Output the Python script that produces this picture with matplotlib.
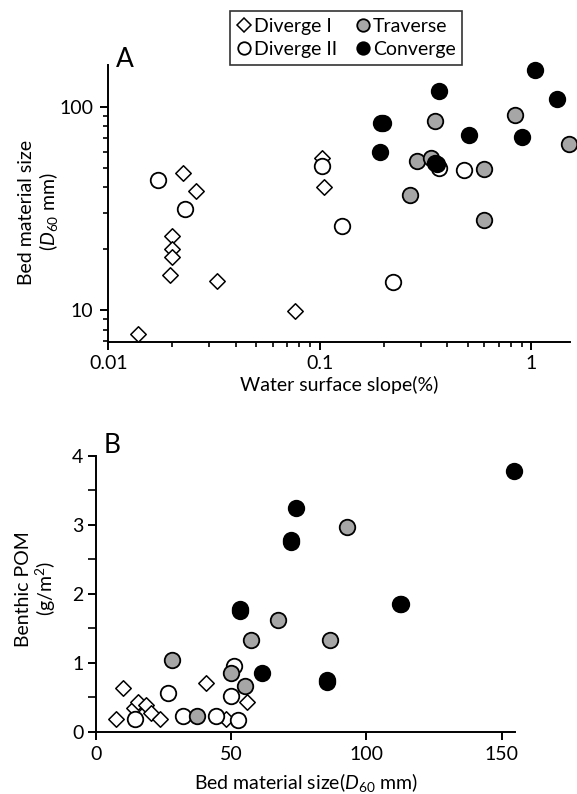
import matplotlib
matplotlib.use("Agg")
import matplotlib.pyplot as plt
from matplotlib.ticker import FixedLocator, LogLocator, NullFormatter, MultipleLocator, FixedFormatter
from matplotlib.lines import Line2D

plt.rcParams['font.family'] = ['Lato', 'DejaVu Sans']
plt.rcParams['mathtext.fontset'] = 'custom'
plt.rcParams['mathtext.rm'] = 'Lato'
plt.rcParams['mathtext.it'] = 'Lato:italic'

# ---------- Panel A data: slope (%) vs D60 (mm) ----------
a_div1_x = [0.0138, 0.0225, 0.0259, 0.0199, 0.0199, 0.0199, 0.0195, 0.0326, 0.0767, 0.1022, 0.1048]
a_div1_y = [7.6, 47, 38.4, 23, 20, 18.2, 14.9, 13.9, 9.85, 55.7, 40]
a_div2_x = [0.0172, 0.023, 0.1027, 0.127, 0.222, 0.365, 0.482]
a_div2_y = [43.4, 31.3, 51, 26, 13.7, 49.8, 49]
a_trav_x = [0.266, 0.288, 0.334, 0.350, 0.600, 0.600, 0.834, 1.51]
a_trav_y = [36.8, 53.8, 56, 85.3, 49.2, 27.6, 90.6, 65.5]
a_conv_x = [0.194, 0.199, 0.193, 0.364, 0.350, 0.356, 0.509, 0.904, 1.037, 1.32]
a_conv_y = [83.4, 83.4, 60, 118.7, 53.0, 52.0, 72.6, 71.1, 151, 109]

# ---------- Panel B data: D60 (mm) vs benthic POM (g/m2) ----------
b_div1_x = [7.5, 10, 14.2, 15.6, 18.4, 20.2, 23.5, 40.6, 47.9, 55.7]
b_div1_y = [0.19, 0.64, 0.34, 0.435, 0.39, 0.27, 0.19, 0.70, 0.19, 0.43]
b_div2_x = [14.3, 26.8, 32.1, 44.2, 50.1, 51.2, 52.6]
b_div2_y = [0.18, 0.556, 0.23, 0.23, 0.52, 0.96, 0.17]
b_trav_x = [28.1, 37.5, 50.0, 55.1, 57.5, 67.2, 86.5, 92.8]
b_trav_y = [1.04, 0.23, 0.856, 0.667, 1.33, 1.62, 1.33, 2.965]
b_conv_x = [53.2, 53.2, 61.4, 72.1, 72.1, 73.8, 85.6, 85.6, 112.4, 113.0, 154.8]
b_conv_y = [1.785, 1.745, 0.856, 2.775, 2.745, 3.25, 0.745, 0.715, 1.857, 1.857, 3.78]

x_ticks_a = [0.01, 0.1, 1]
x_labels_a = ["0.01", "0.1", "1"]
y_ticks_a = [10, 100]
y_labels_a = ["10", "100"]
x_ticks_b = [0, 50, 100, 150]
y_ticks_b = [0, 1, 2, 3, 4]

FS = 14

fig = plt.figure(figsize=(5.77, 7.94), dpi=100)

styles = {
    'div1': dict(marker='D', s=62, facecolor='white', edgecolor='black', linewidth=1.1),
    'div2': dict(marker='o', s=125, facecolor='white', edgecolor='black', linewidth=1.3),
    'trav': dict(marker='o', s=125, facecolor='#a6a6a6', edgecolor='black', linewidth=1.3),
    'conv': dict(marker='o', s=125, facecolor='black', edgecolor='black', linewidth=1.3),
}

def style_axes(ax):
    for s in ['top', 'right']:
        ax.spines[s].set_visible(False)
    for s in ['left', 'bottom']:
        ax.spines[s].set_linewidth(1.4)
    ax.tick_params(which='major', direction='out', length=6, width=1.4, labelsize=FS, pad=3)
    ax.tick_params(which='minor', direction='out', length=3.5, width=1.2)

# Panel A
axA = fig.add_axes([0.1877, 0.5689, 0.800, 0.3492])
axA.set_xscale('log')
axA.set_yscale('log')
axA.scatter(a_div1_x, a_div1_y, zorder=3, clip_on=False, **styles['div1'])
axA.scatter(a_div2_x, a_div2_y, zorder=3, clip_on=False, **styles['div2'])
axA.scatter(a_trav_x, a_trav_y, zorder=3, clip_on=False, **styles['trav'])
axA.scatter(a_conv_x, a_conv_y, zorder=3, clip_on=False, **styles['conv'])
axA.set_xlim(0.01, 1.52)
axA.set_ylim(6.93, 160)
axA.xaxis.set_major_locator(FixedLocator(x_ticks_a))
axA.xaxis.set_major_formatter(FixedFormatter(x_labels_a))
axA.xaxis.set_minor_locator(LogLocator(base=10, subs=range(2, 10)))
axA.xaxis.set_minor_formatter(NullFormatter())
axA.yaxis.set_major_locator(FixedLocator(y_ticks_a))
axA.yaxis.set_major_formatter(FixedFormatter(y_labels_a))
axA.yaxis.set_minor_locator(LogLocator(base=10, subs=range(2, 10)))
axA.yaxis.set_minor_formatter(NullFormatter())
style_axes(axA)
axA.tick_params(axis='y', which='major', pad=5)
axA.set_xlabel("Water surface slope(%)", fontsize=FS, labelpad=3)
axA.set_ylabel("Bed material size\n" + r"($\mathit{D}_{60}$ mm)", fontsize=FS, linespacing=1.1)
axA.yaxis.set_label_coords(-0.104, 0.47)
fig.text(116 / 577, 1 - 67 / 794, "A", fontsize=19, ha='left', va='baseline')

# Panel B
axB = fig.add_axes([0.1664, 0.0785, 0.7262, 0.3472])
axB.scatter(b_div1_x, b_div1_y, zorder=3, clip_on=False, **styles['div1'])
axB.scatter(b_div2_x, b_div2_y, zorder=3, clip_on=False, **styles['div2'])
axB.scatter(b_trav_x, b_trav_y, zorder=3, clip_on=False, **styles['trav'])
axB.scatter(b_conv_x, b_conv_y, zorder=3, clip_on=False, **styles['conv'])
axB.set_xlim(0, 155)
axB.set_ylim(0, 4)
axB.xaxis.set_major_locator(FixedLocator(x_ticks_b))
axB.yaxis.set_major_locator(FixedLocator(y_ticks_b))
axB.yaxis.set_minor_locator(MultipleLocator(0.5))
style_axes(axB)
axB.tick_params(axis='y', which='minor', length=6)
axB.tick_params(axis='x', which='major', pad=4)
axB.set_xlabel(r"Bed material size($\mathit{D}_{60}$ mm)", fontsize=FS, labelpad=6)
axB.set_ylabel("Benthic POM\n" + r"(g/m$^{2}$)", fontsize=FS, linespacing=1.1)
axB.yaxis.set_label_coords(-0.091, 0.518)
fig.text(104 / 577, 1 - 453 / 794, "B", fontsize=19, ha='left', va='baseline')

# Legend
handles = [
    Line2D([], [], linestyle='none', marker='D', markersize=7, markerfacecolor='white', markeredgecolor='black', markeredgewidth=1.1),
    Line2D([], [], linestyle='none', marker='o', markersize=9, markerfacecolor='white', markeredgecolor='black', markeredgewidth=1.3),
    Line2D([], [], linestyle='none', marker='o', markersize=9, markerfacecolor='#a6a6a6', markeredgecolor='black', markeredgewidth=1.3),
    Line2D([], [], linestyle='none', marker='o', markersize=9, markerfacecolor='black', markeredgecolor='black', markeredgewidth=1.3),
]
labels = ["Diverge I", "Diverge II", "Traverse", "Converge"]
leg = fig.legend(handles, labels, ncol=2, loc='center', bbox_to_anchor=(0.6005, 0.952),
                 fontsize=FS, frameon=True, fancybox=False, edgecolor='black',
                 handlelength=0.7, handletextpad=0.15, columnspacing=1.0,
                 labelspacing=0.3, borderpad=0.35, borderaxespad=0)
leg.get_frame().set_linewidth(1.2)

fig.savefig("out.png", dpi=100)
